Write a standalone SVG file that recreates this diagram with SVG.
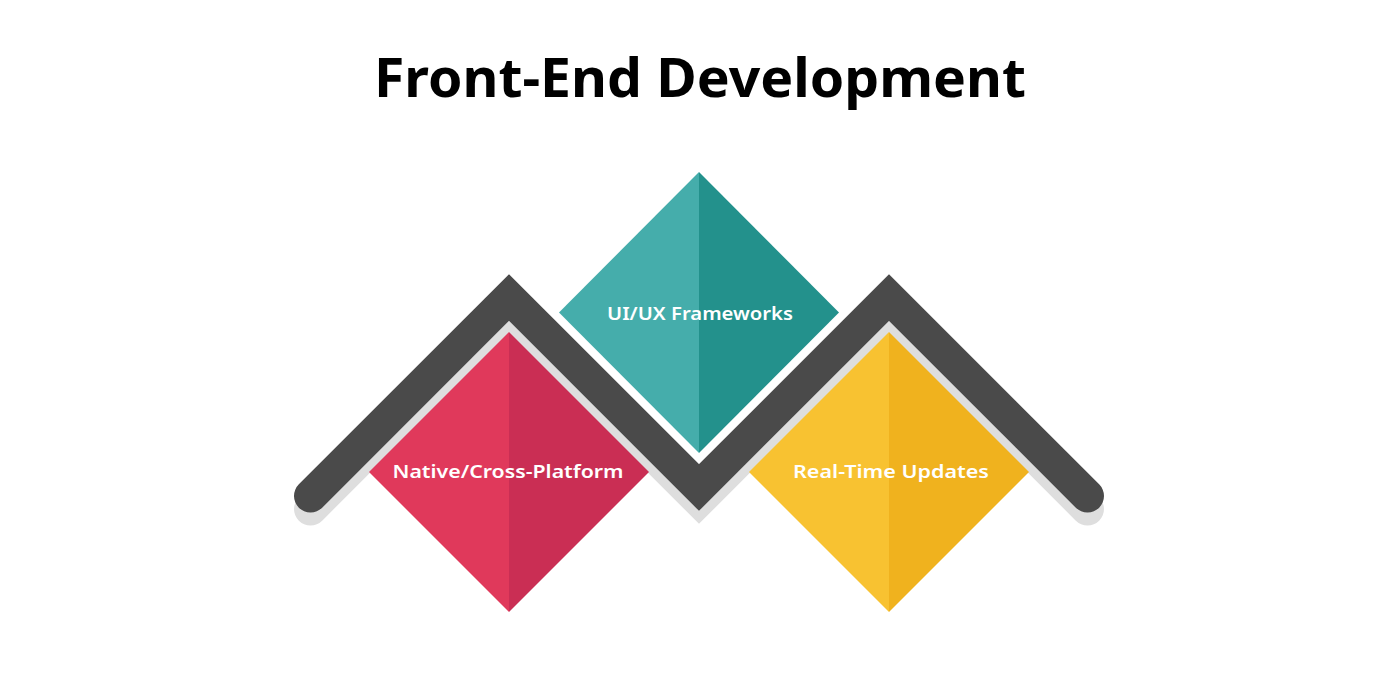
<svg xmlns="http://www.w3.org/2000/svg" width="1400" height="700" viewBox="0 0 1400 700">
  <style>
    .title { font-family: "Noto Sans", "Liberation Sans", sans-serif; font-weight: 700; font-size: 53px; fill: #000000; }
    .label { font-family: "Noto Sans", "Liberation Sans", sans-serif; font-weight: 600; font-size: 18px; fill: #ffffff; }
    .zig { fill: none; stroke-width: 33; stroke-linecap: round; stroke-linejoin: miter; }
  </style>
  <rect width="1400" height="700" fill="#ffffff"/>
  <text class="title" x="700" y="97" text-anchor="middle" textLength="652" lengthAdjust="spacingAndGlyphs">Front-End Development</text>

  <g id="connectors">
    <polyline class="zig" stroke="#dedede" points="310.5,509 509,310.5 699,500.5 889,310.5 1087.5,509"/>
    <polyline class="zig" stroke="#4a4a4a" points="310.5,496 509,297.5 699,487.5 889,297.5 1087.5,496"/>
  </g>

  <g id="node-uiux">
    <polygon points="699,172 699,453 559,312.5" fill="#45adab"/>
    <polygon points="699,172 839,312.5 699,453" fill="#23918c"/>
    <text class="label" x="700" y="320" text-anchor="middle" textLength="186" lengthAdjust="spacingAndGlyphs">UI/UX Frameworks</text>
  </g>

  <g id="node-native">
    <polygon points="509,332 509,612 369,472" fill="#e0395b"/>
    <polygon points="509,332 649,472 509,612" fill="#ca2e54"/>
    <text class="label" x="508" y="478" text-anchor="middle" textLength="231" lengthAdjust="spacingAndGlyphs">Native/Cross-Platform</text>
  </g>

  <g id="node-realtime">
    <polygon points="889,332 889,612 749,472" fill="#f8c231"/>
    <polygon points="889,332 1029,472 889,612" fill="#f0b21e"/>
    <text class="label" x="891" y="478" text-anchor="middle" textLength="196" lengthAdjust="spacingAndGlyphs">Real-Time Updates</text>
  </g>
</svg>
